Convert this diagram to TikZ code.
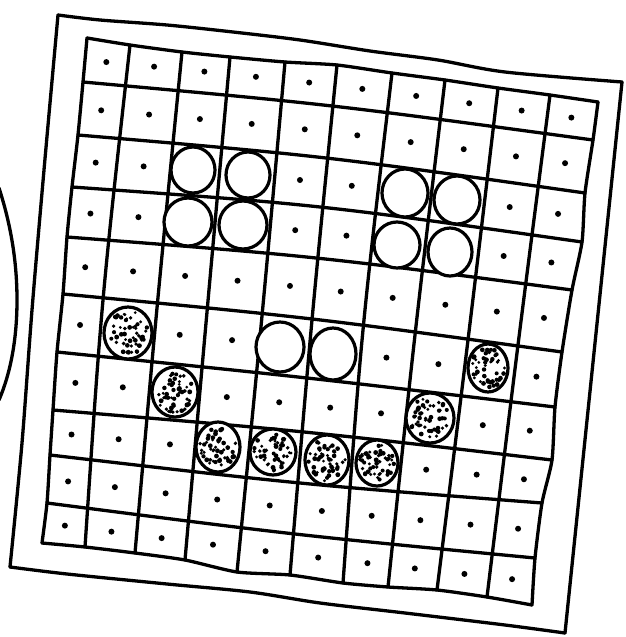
\documentclass[tikz,border=0pt]{standalone}
\usetikzlibrary{calc,intersections}
\tikzset{
  gridline/.style={line width=3.3pt, line cap=round, line join=round},
  framestroke/.style={line width=3.3pt, line cap=round, line join=round},
  piece/.style={line width=3.2pt, draw=black, fill=white},
  celldot/.style={fill=black},
  stipdot/.style={fill=black},
}
\newcommand\stipcirc[4]{%
  \fill[white] (#1,#2) ellipse [x radius=#3pt, y radius=#4pt];
  \foreach \k in {1,...,50}{%
    \pgfmathsetmacro\stA{rnd*360}%
    \pgfmathsetmacro\stR{sqrt(rnd)*0.84}%
    \pgfmathsetmacro\stX{#1+#3*\stR*cos(\stA)}%
    \pgfmathsetmacro\stY{#2+#4*\stR*sin(\stA)}%
    \pgfmathsetmacro\stD{1.5+1.0*rnd}%
    \fill[stipdot] (\stX,\stY) circle (\stD pt);
  }%
  \draw[piece,fill=none] (#1,#2) ellipse [x radius=#3pt, y radius=#4pt];
}
\begin{document}
\begin{tikzpicture}[x=1pt,y=-1pt]
\pgfmathsetseed{7}
\useasboundingbox (0,0) rectangle (625,637);
% ---- outer frame
\draw[framestroke] plot[smooth, tension=0.5] coordinates {(58,15) (100,20) (167,25) (233,32) (300,40) (370,51) (438,60) (505,72) (622,82)};
\draw[framestroke] (622,82) -- (565,633);
\draw[framestroke] plot[smooth, tension=0.5] coordinates {(10,567) (67,574) (167,584) (250,592) (320,603) (405,613) (505,625) (565,633)};
\draw[framestroke] plot[smooth, tension=0.5] coordinates {(58,15) (44,170) (32,310) (22,443) (10,567)};
% ---- partial arc on the left
\draw[framestroke] (-1,188) .. controls (11,225) and (17,262) .. (17,300) .. controls (17,338) and (11,372) .. (-1,400);
% ---- grid edge points
\foreach \n/\x/\y in {0/87/38,1/83/82,2/78/135,3/72/187,4/67/237,5/63/294,6/57/352,7/53/410,8/50/455,9/47/503,10/42/543}{\coordinate (L\n) at (\x,\y);}
\foreach \n/\x/\y in {0/337/65,1/332/106,2/326/158,3/320/207,4/316/258,5/312/319,6/307/378,7/304/432,8/300/483,9/295/534,10/290/575}{\coordinate (M\n) at (\x,\y);}
\foreach \n/\x/\y in {0/598/102,1/593/140,2/585/193,3/582/242,4/572/290,5/562/352,6/555/407,7/552/460,8/542/503,9/535/558,10/532/605}{\coordinate (R\n) at (\x,\y);}
\foreach \n/\x/\y in {0/87/38,1/130/45,2/182/52,3/230/57,4/285/62,5/337/65,6/392/73,7/445/80,8/498/88,9/550/95,10/598/102}{\coordinate (T\n) at (\x,\y);}
\foreach \n/\x/\y in {0/62/293,1/103/300,2/157/308,3/207/312,4/262/316,5/312/320,6/363/330,7/415/335,8/468/340,9/518/345,10/562/352}{\coordinate (C\n) at (\x,\y);}
\foreach \n/\x/\y in {0/42/543,1/85/547,2/135/553,3/185/560,4/237/572,5/290/575,6/343/583,7/388/587,8/437/590,9/487/597,10/532/605}{\coordinate (B\n) at (\x,\y);}
% ---- inner frame (board edges through all measured points)
\draw[gridline] plot[smooth, tension=0.4] coordinates {(T0) (T1) (T2) (T3) (T4) (T5) (T6) (T7) (T8) (T9) (T10)};
\draw[gridline] plot[smooth, tension=0.4] coordinates {(B0) (B1) (B2) (B3) (B4) (B5) (B6) (B7) (B8) (B9) (B10)};
\draw[gridline] plot[smooth, tension=0.4] coordinates {(L0) (L1) (L2) (L3) (L4) (L5) (L6) (L7) (L8) (L9) (L10)};
\draw[gridline] plot[smooth, tension=0.4] coordinates {(R0) (R1) (R2) (R3) (R4) (R5) (R6) (R7) (R8) (R9) (R10)};
% ---- interior grid lines
\foreach \n in {1,...,9}{
  \coordinate (KR\n) at ($1.333333*(M\n)-0.1666667*(L\n)-0.1666667*(R\n)$);
  \coordinate (KC\n) at ($1.333333*(C\n)-0.1666667*(T\n)-0.1666667*(B\n)$);
  \draw[gridline] (L\n) .. controls (KR\n) .. (R\n);
  \draw[gridline] (T\n) .. controls (KC\n) .. (B\n);
}
% ---- mid lines for cell dots
\foreach \r [count=\s from 1] in {0,...,9}{
  \coordinate (mL\r) at ($(L\r)!.5!(L\s)$);
  \coordinate (mM\r) at ($(M\r)!.5!(M\s)$);
  \coordinate (mR\r) at ($(R\r)!.5!(R\s)$);
  \coordinate (mK\r) at ($1.333333*(mM\r)-0.1666667*(mL\r)-0.1666667*(mR\r)$);
  \path[name path global=mr\r] (mL\r) .. controls (mK\r) .. (mR\r);
  \coordinate (nT\r) at ($(T\r)!.5!(T\s)$);
  \coordinate (nC\r) at ($(C\r)!.5!(C\s)$);
  \coordinate (nB\r) at ($(B\r)!.5!(B\s)$);
  \coordinate (nK\r) at ($1.333333*(nC\r)-0.1666667*(nT\r)-0.1666667*(nB\r)$);
  \path[name path global=mc\r] (nT\r) .. controls (nK\r) .. (nB\r);
}
\foreach \c in {0,...,9}{
  \foreach \r in {0,...,9}{
    \path[name intersections={of={mc\c} and {mr\r}, by={d\c-\r}}];
    \fill[celldot] (d\c-\r) circle (3pt);
  }
}
% ---- white pieces
\foreach \x/\y/\a/\b in {193/170/22/23, 248/175/22/23, 188/222/24/24, 243/225/24/24,
  405/193/23/24, 457/200/23/24, 397/245/23/23, 450/252/22/24,
  280/347/24/25, 333/354/23/26}{
  \draw[piece] (\x,\y) ellipse [x radius=\a pt, y radius=\b pt];
}
% ---- stippled pieces
\stipcirc{128}{333}{24}{26}
\stipcirc{175}{392}{23}{25}
\stipcirc{218}{447}{22}{25}
\stipcirc{273}{452}{23}{23}
\stipcirc{327}{460}{22}{25}
\stipcirc{377}{463}{21}{23}
\stipcirc{430}{418}{24}{25}
\stipcirc{488}{368}{20}{24}
\end{tikzpicture}
\end{document}
